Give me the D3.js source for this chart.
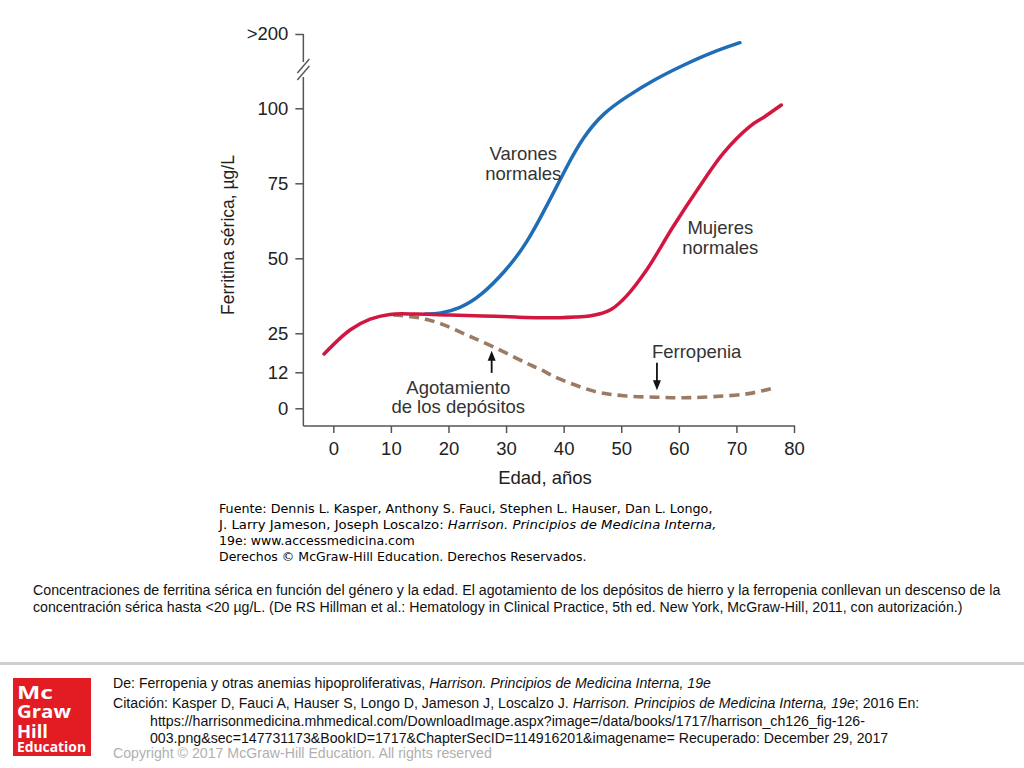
<!DOCTYPE html>
<html>
<head>
<meta charset="utf-8">
<script src="https://cdn.jsdelivr.net/npm/d3@7"></script>
<style>
  html, body { margin: 0; padding: 0; background: #fff; }
  svg { display: block; }
</style>
</head>
<body>
<svg id="chart" width="1024" height="768"></svg>
<script>
// ---- data ----
const xTicks = [0, 10, 20, 30, 40, 50, 60, 70, 80];
const yTicks = [0, 12, 25, 50, 75, 100, 200];
const yTickLabels = ["0", "12", "25", "50", "75", "100", ">200"];

const womenAge = [-1.6, 2.9, 6.4, 9.8, 14.5, 20.3, 26.0, 31.8, 35.9, 39.4, 42.0, 44.5, 46.5, 48.3, 50.9, 54.4, 59.0, 63.6, 67.7, 72.3, 74.9, 77.8];
const womenVal = [18.1, 26.1, 29.7, 31.3, 31.4, 31.1, 30.8, 30.4, 30.2, 30.2, 30.4, 30.8, 31.6, 33.0, 37.4, 46.1, 60.5, 73.9, 85.0, 93.9, 97.2, 104.4];

const menAge = [16.0, 18.5, 22.0, 25.5, 30.1, 33.6, 37.0, 40.5, 43.4, 46.9, 50.9, 55.6, 60.8, 66.0, 70.6];
const menVal = [31.4, 31.5, 33.3, 37.2, 46.1, 55.0, 67.2, 80.5, 90.5, 98.5, 115.6, 138.1, 158.3, 176.2, 188.3];

const depletionAge = [10.4, 14.5, 18.5, 23.2, 27.8, 33.6, 35.9, 39.4, 45.7, 50.9, 56.1, 60.8, 66.0, 71.8, 76.4];
const depletionVal = [31.1, 30.3, 28.3, 24.4, 20.5, 15.0, 13.0, 9.7, 5.5, 4.1, 3.7, 3.5, 3.9, 4.8, 6.7];

const xTitle = "Edad, años";
const yTitle = "Ferritina sérica, µg/L";

const sourceLines = [
  [["Fuente: Dennis L. Kasper, Anthony S. Fauci, Stephen L. Hauser, Dan L. Longo,", false]],
  [["J. Larry Jameson, Joseph Loscalzo: ", false], ["Harrison. Principios de Medicina Interna,", true]],
  [["19e: www.accessmedicina.com", false]],
  [["Derechos © McGraw-Hill Education. Derechos Reservados.", false]]
];
const captionLines = [
  "Concentraciones de ferritina sérica en función del género y la edad. El agotamiento de los depósitos de hierro y la ferropenia conllevan un descenso de la",
  "concentración sérica hasta <20 µg/L. (De RS Hillman et al.: Hematology in Clinical Practice, 5th ed. New York, McGraw-Hill, 2011, con autorización.)"
];
const logoWords = ["Mc", "Graw", "Hill", "Education"];

// ---- layout ----
const svg = d3.select("#chart");
const x = d3.scaleLinear().domain([0, 80]).range([333.3, 794]);
const y = d3.scaleLinear().domain([0, 100, 200]).range([408.3, 108.3, 34]);
const axisY = 426, axisX = x(-5.2);
const ink = "#333";
const chartFont = "'Liberation Sans', Arial, Helvetica, sans-serif";

function fit(sel, w) {
  const node = sel.node();
  const bb = node.getBBox();
  const sx = w / bb.width;
  const x0 = bb.x;
  sel.attr("transform", `translate(${x0},0) scale(${sx},1) translate(${-x0},0)`);
}

// x axis
const gx = svg.append("g").attr("transform", `translate(0,${axisY})`)
  .call(d3.axisBottom(x).tickValues(xTicks).tickSize(7).tickPadding(9));
gx.select(".domain").remove();
gx.selectAll(".tick line").attr("stroke", "#555").attr("stroke-width", 1.5);
gx.selectAll(".tick text").attr("font-family", chartFont).attr("font-size", 18.5).attr("fill", "#222");
svg.append("line").attr("x1", axisX).attr("x2", x(80) + 1).attr("y1", axisY).attr("y2", axisY)
  .attr("stroke", "#555").attr("stroke-width", 1.5);

// y axis
const gy = svg.append("g").attr("transform", `translate(${axisX},0)`)
  .call(d3.axisLeft(y).tickValues(yTicks).tickSize(8).tickPadding(7)
    .tickFormat((d, i) => yTickLabels[i]));
gy.select(".domain").remove();
gy.selectAll(".tick line").attr("stroke", "#555").attr("stroke-width", 1.5);
gy.selectAll(".tick text").attr("font-family", chartFont).attr("font-size", 18.5).attr("fill", "#222");
// broken y axis line
const breakLow = 77, breakHigh = 62;
svg.append("line").attr("x1", axisX).attr("x2", axisX).attr("y1", axisY).attr("y2", breakLow)
  .attr("stroke", "#555").attr("stroke-width", 1.5);
svg.append("line").attr("x1", axisX).attr("x2", axisX).attr("y1", y(200)).attr("y2", breakHigh)
  .attr("stroke", "#555").attr("stroke-width", 1.5);
[0, 7].forEach(o => {
  svg.append("line").attr("x1", axisX - 6).attr("y1", 73 + o).attr("x2", axisX + 6).attr("y2", 59 + o)
    .attr("stroke", "#555").attr("stroke-width", 1.4);
});

// axis titles
svg.append("text").attr("x", 545).attr("y", 484).attr("text-anchor", "middle")
  .attr("font-family", chartFont).attr("font-size", 18.5).attr("fill", "#222").text(xTitle);
svg.append("text").attr("transform", "translate(234,235) rotate(-90)").attr("text-anchor", "middle")
  .attr("font-family", chartFont).attr("font-size", 17.5).attr("fill", "#222").text(yTitle);

// curves
const lineCR = d3.line().x(d => x(d[0])).y(d => y(d[1])).curve(d3.curveCatmullRom.alpha(0.5));
const lineB = d3.line().x(d => x(d[0])).y(d => y(d[1])).curve(d3.curveBasis);
const zip = (a, b) => a.map((v, i) => [v, b[i]]);
svg.append("path").attr("d", lineCR(zip(depletionAge, depletionVal))).attr("fill", "none")
  .attr("stroke", "#9c7b66").attr("stroke-width", 3.6).attr("stroke-dasharray", "10,6");
svg.append("path").attr("d", lineB(zip(menAge, menVal))).attr("fill", "none")
  .attr("stroke", "#1f6db6").attr("stroke-width", 3.5).attr("stroke-linecap", "round");
svg.append("path").attr("d", lineCR(zip(womenAge, womenVal))).attr("fill", "none")
  .attr("stroke", "#d3163f").attr("stroke-width", 3.5).attr("stroke-linecap", "round");

// annotations
function label(lines, ax, vals) {
  lines.forEach((t, i) => {
    svg.append("text").attr("x", x(ax)).attr("y", y(vals[i])).attr("dy", "0.36em")
      .attr("text-anchor", "middle").attr("font-family", chartFont).attr("font-size", 18.5)
      .attr("fill", ink).text(t);
  });
}
label(["Varones", "normales"], 33.0, [85.1, 78.4]);
label(["Mujeres", "normales"], 67.2, [60.4, 53.6]);
label(["Ferropenia"], 63.1, [18.9]);
label(["Agotamiento", "de los depósitos"], 21.7, [7.1, 0.5]);

function arrow(ax, fromV, toV) {
  const x0 = x(ax), y0 = y(fromV), y1 = y(toV);
  const dir = Math.sign(y1 - y0);
  svg.append("line").attr("x1", x0).attr("x2", x0).attr("y1", y0).attr("y2", y1 - dir * 6)
    .attr("stroke", "#111").attr("stroke-width", 1.8);
  svg.append("path").attr("d", `M${x0},${y1} L${x0 - 4},${y1 - dir * 10} L${x0 + 4},${y1 - dir * 10} Z`)
    .attr("fill", "#111");
}
arrow(27.5, 11.8, 19.2);
arrow(56.2, 15.2, 6.0);

// source block
const srcFont = "'DejaVu Sans', Verdana, sans-serif";
const srcBase = [513, 529, 545, 561];
const srcWidths = [494, 499, 196, 368];
sourceLines.forEach((parts, i) => {
  const t = svg.append("text").attr("x", 219).attr("y", srcBase[i])
    .attr("font-family", srcFont).attr("font-size", 12).attr("fill", "#000");
  parts.forEach(p => t.append("tspan").attr("font-style", p[1] ? "italic" : "normal").text(p[0]));
  fit(t, srcWidths[i]);
});

// caption
const narrow = "'Liberation Sans Narrow', 'Arial Narrow', 'Liberation Sans', Arial, sans-serif";
const capBase = [595, 612];
const capWidths = [968, 930];
captionLines.forEach((c, i) => {
  const t = svg.append("text").attr("x", 33).attr("y", capBase[i])
    .attr("font-family", narrow).attr("font-size", 14).attr("fill", "#111").text(c);
  fit(t, capWidths[i]);
});

// separator
svg.append("rect").attr("x", 0).attr("y", 662).attr("width", 1024).attr("height", 3).attr("fill", "#cfcfcf");

// logo (one text block, one line per word; tightly stacked as in the reference)
svg.append("rect").attr("x", 13).attr("y", 678).attr("width", 78).attr("height", 78).attr("fill", "#e31b23");
const logoFont = "'Open Sans', 'DejaVu Sans', sans-serif";
const logoBase = [698.5, 718, 737.5, 751.5];
const logoSize = [18.5, 18.5, 18.5, 13.5];
const logoW = [36, 54, 31, 69];
const logoText = svg.append("text").attr("font-family", logoFont).attr("font-weight", "bold").attr("fill", "#fff");
logoWords.forEach((w, i) => {
  logoText.append("tspan").attr("x", 17).attr("y", logoBase[i]).attr("font-size", logoSize[i])
    .attr("textLength", logoW[i]).attr("lengthAdjust", "spacingAndGlyphs").text(w);
});

// footer
const footer = [
  { y: 688, x: 113, w: 599, parts: [["De: Ferropenia y otras anemias hipoproliferativas, ", false], ["Harrison. Principios de Medicina Interna, 19e", true]], c: "#111" },
  { y: 708, x: 113, w: 807, parts: [["Citación: Kasper D, Fauci A, Hauser S, Longo D, Jameson J, Loscalzo J. ", false], ["Harrison. Principios de Medicina Interna, 19e", true], ["; 2016 En:", false]], c: "#111" },
  { y: 726, x: 150, w: 716, parts: [["https://harrisonmedicina.mhmedical.com/DownloadImage.aspx?image=/data/books/1717/harrison_ch126_fig-126-", false]], c: "#111" },
  { y: 743, x: 150, w: 739, parts: [["003.png&sec=147731173&BookID=1717&ChapterSecID=114916201&imagename= Recuperado: December 29, 2017", false]], c: "#111" },
  { y: 758, x: 113, w: 379, parts: [["Copyright © 2017 McGraw-Hill Education. All rights reserved", false]], c: "#b0b0b0" }
];
footer.forEach(f => {
  const t = svg.append("text").attr("x", f.x).attr("y", f.y).attr("font-family", narrow)
    .attr("font-size", 14).attr("fill", f.c);
  f.parts.forEach(p => t.append("tspan").attr("font-style", p[1] ? "italic" : "normal").text(p[0]));
  fit(t, f.w);
});
</script>
</body>
</html>
